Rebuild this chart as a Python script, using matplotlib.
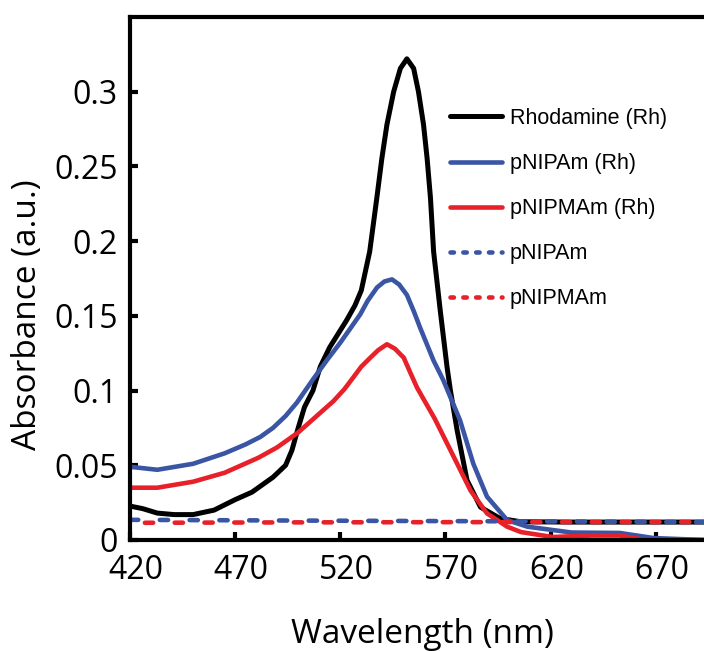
import numpy as np
import matplotlib.pyplot as plt
import matplotlib.transforms as mtransforms
from matplotlib.lines import Line2D

# Rhodamine (Rh)
wl_rh = [420, 426, 433, 441, 450, 460, 470, 478, 488, 494, 497, 500, 503, 507, 510.5, 515, 519, 523,
         527, 530, 534, 537.4, 539.8, 542.2, 545.4, 548.6, 551.7, 554.9, 557.2, 559.6, 561.3, 562.9,
         564.4, 567.6, 570.8, 572.4, 575.6, 580.3, 586.7, 596, 606, 630, 660, 693]
abs_rh = [0.0227, 0.021, 0.018, 0.017, 0.017, 0.020, 0.027, 0.032, 0.042, 0.050, 0.060, 0.075, 0.089,
          0.100, 0.116, 0.129, 0.138, 0.147, 0.157, 0.167, 0.193, 0.229, 0.2555, 0.278, 0.300, 0.3156,
          0.322, 0.3156, 0.300, 0.278, 0.2555, 0.229, 0.193, 0.153, 0.1156, 0.100, 0.0733, 0.040, 0.022,
          0.0144, 0.0122, 0.012, 0.012, 0.012]

# pNIPAm (Rh)
wl_pnipam_rh = [420, 433, 450, 465, 475, 482, 488, 494, 499.4, 507.3, 514, 520, 525, 529.5, 533, 537.5,
                541, 544.6, 548, 551.7, 555, 558, 564.4, 569, 577, 583.3, 589.8, 599.4, 609, 630, 653,
                669, 693]
abs_pnipam_rh = [0.049, 0.047, 0.051, 0.058, 0.064, 0.069, 0.075, 0.083, 0.092, 0.108, 0.121, 0.132,
                 0.142, 0.151, 0.160, 0.169, 0.173, 0.1744, 0.171, 0.164, 0.153, 0.142, 0.120, 0.107,
                 0.080, 0.051, 0.029, 0.0133, 0.0089, 0.005, 0.0047, 0.0013, 0.0]

# pNIPMAm (Rh)
wl_pnipmam_rh = [420, 433, 450, 465, 481, 490, 500, 508, 516.8, 522, 526.3, 530, 534.3, 538, 542.2,
                 546, 550.2, 553, 556.5, 565, 574, 582, 589.8, 599.4, 606, 621, 640, 653, 665, 693]
abs_pnipmam_rh = [0.035, 0.035, 0.039, 0.045, 0.055, 0.062, 0.072, 0.082, 0.093, 0.101, 0.109, 0.116,
                  0.122, 0.127, 0.131, 0.128, 0.122, 0.113, 0.102, 0.081, 0.0556, 0.033, 0.0178, 0.0089,
                  0.0053, 0.002, 0.003, 0.003, 0.0, 0.0]

# bare gels
wl_gel = [420, 500, 600, 693]
abs_pnipam = [0.0135, 0.013, 0.0125, 0.012]
abs_pnipmam = [0.0115, 0.0118, 0.012, 0.012]

labels = ["Rhodamine (Rh)", "pNIPAm (Rh)", "pNIPMAm (Rh)", "pNIPAm", "pNIPMAm"]
xticks = [420, 470, 520, 570, 620, 670]
yticks = [0, 0.05, 0.1, 0.15, 0.2, 0.25, 0.3]
ytick_labels = ["0", "0.05", "0.1", "0.15", "0.2", "0.25", "0.3"]

blue = "#3a55a4"
red = "#e8202a"

fig = plt.figure(figsize=(7.04, 6.51), dpi=100)
ax = fig.add_axes([130/704, 111/651, 574/704, 523/651])

kw = dict(solid_capstyle="round", solid_joinstyle="round")
ax.plot(wl_rh, abs_rh, color="black", lw=3.6, **kw)
ax.plot(wl_pnipam_rh, abs_pnipam_rh, color=blue, lw=3.3, **kw)
ax.plot(wl_pnipmam_rh, abs_pnipmam_rh, color=red, lw=3.3, **kw)
ax.plot(wl_gel, abs_pnipam, color=blue, lw=3.3, ls=(0, (1.8, 4.7)), dash_capstyle="round")
ax.plot(wl_gel, abs_pnipmam, color=red, lw=3.3, ls=(3.25, (1.8, 4.7)), dash_capstyle="round")

ax.set_xlim(420, 693)
ax.set_ylim(0, 0.35)
ax.set_xticks(xticks)
ax.set_yticks(yticks)
ax.set_yticklabels(ytick_labels)

for s in ["top", "left", "bottom"]:
    ax.spines[s].set_linewidth(3)
ax.spines["right"].set_visible(False)
ax.tick_params(direction="in", length=6, width=3, labelsize=23, pad=9)
ax.tick_params(axis="x", pad=10)
shift = mtransforms.ScaledTranslation(6/100, 0, fig.dpi_scale_trans)
for lab in ax.get_xticklabels():
    lab.set_transform(lab.get_transform() + shift)
for lab in ax.get_xticklabels() + ax.get_yticklabels():
    lab.set_family("Open Sans")

ax.set_xlabel("Wavelength (nm)", fontsize=24, family="Open Sans")
ax.set_ylabel("Absorbance (a.u.)", fontsize=24, family="Open Sans")
ax.xaxis.set_label_coords(0.51, -0.15)
ax.yaxis.set_label_coords(-0.15, 0.43)

# legend handles: dotted entries use a shorter dash than the plotted lines
handles = [
    Line2D([], [], color="black", lw=3.6, solid_capstyle="round"),
    Line2D([], [], color=blue, lw=3.3, solid_capstyle="round"),
    Line2D([], [], color=red, lw=3.3, solid_capstyle="round"),
    Line2D([], [], color=blue, lw=3.3, ls=(0, (0.75, 2.05)), dash_capstyle="round"),
    Line2D([], [], color=red, lw=3.3, ls=(0, (0.75, 2.05)), dash_capstyle="round"),
]
ax.legend(handles, labels, loc="upper left", bbox_to_anchor=(0.557, 0.826), frameon=False,
          prop={"family": "Liberation Sans", "size": 15.5}, handlelength=2.45,
          handletextpad=0.35, labelspacing=1.12, borderpad=0, borderaxespad=0)

fig.savefig("out.png", dpi=100)
